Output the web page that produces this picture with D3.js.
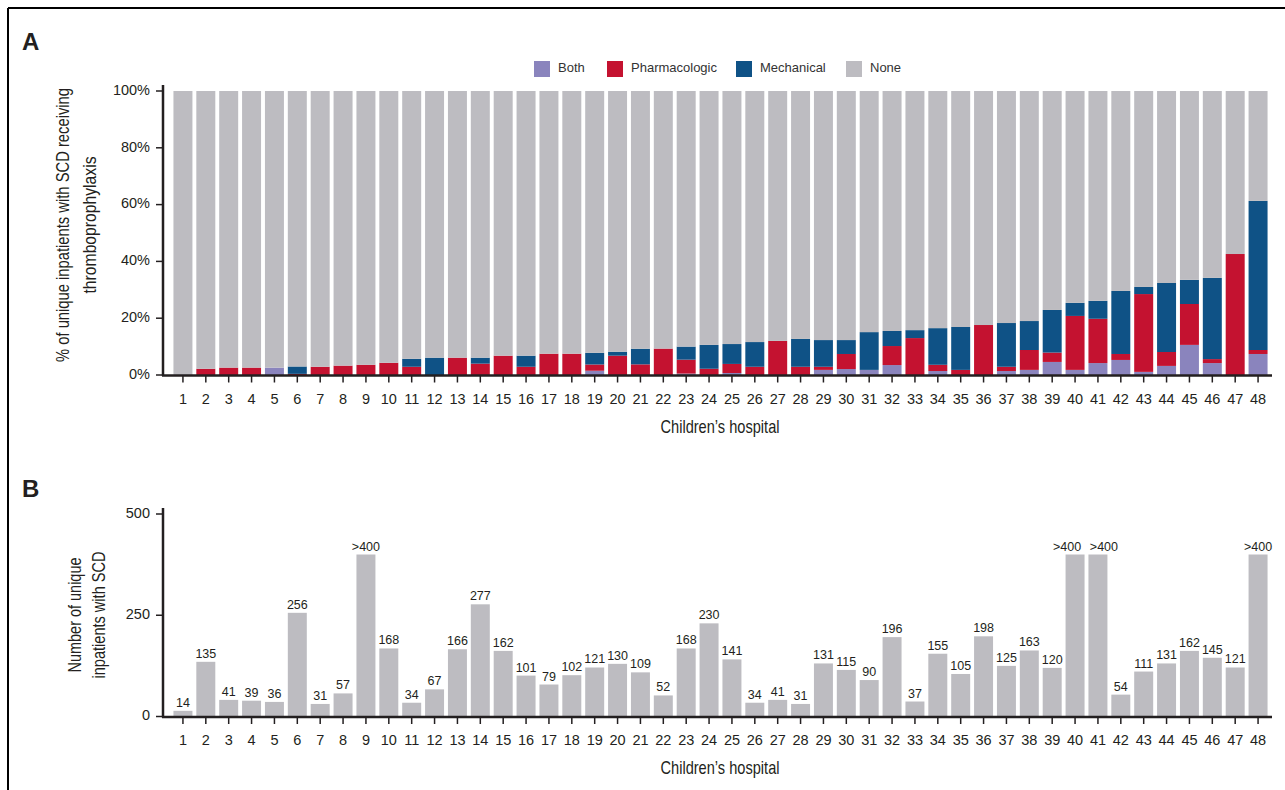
<!DOCTYPE html>
<html>
<head>
<meta charset="utf-8">
<script src="https://cdn.jsdelivr.net/npm/d3@7"></script>
<style>
  html, body { margin: 0; padding: 0; background: #fff; }
  svg { display: block; }
  .tick-label { font-family: "Liberation Sans", Arial, sans-serif; font-size: 14.5px; fill: #231f20; }
  .axis-title { font-family: "Liberation Sans", Arial, sans-serif; font-size: 19px; fill: #231f20; }
  .bar-label { font-family: "Liberation Sans", Arial, sans-serif; font-size: 12.5px; fill: #231f20; }
  .legend-label { font-family: "Liberation Sans", Arial, sans-serif; font-size: 13px; fill: #333; }
  .panel-letter { font-family: "Liberation Sans", Arial, sans-serif; font-size: 24px; font-weight: bold; fill: #231f20; }
</style>
</head>
<body>
<svg id="chart" width="1285" height="790"></svg>
<script>
// Children's hospitals 1–48
const hospitals = d3.range(1, 49);

// Panel A: % of unique inpatients with SCD by thromboprophylaxis type
const both = [0, 0, 0, 0, 2.6, 0, 0, 0, 0, 0,
  0, 0, 0, 0, 0, 0, 0, 0, 1.5, 0,
  0, 0, 0.5, 0, 0.7, 0, 0, 0, 1.8, 2.1,
  1.8, 3.5, 0, 1.4, 0, 0, 1.4, 1.8, 4.6, 1.8,
  4.2, 5.3, 1.1, 3.2, 10.6, 4.2, 0, 7.4];
const pharmacologic = [0, 2.2, 2.6, 2.6, 0, 0.4, 2.9, 3.3, 3.6, 4.3,
  2.9, 0, 6.1, 4.0, 6.8, 2.9, 7.5, 7.5, 2.2, 6.8,
  3.75, 9.3, 4.9, 2.2, 3.2, 2.9, 12.0, 2.9, 1.1, 5.3,
  0, 6.7, 13.0, 2.2, 1.8, 17.6, 1.5, 7.0, 3.3, 19.0,
  15.6, 2.1, 27.4, 4.9, 14.4, 1.4, 42.6, 1.4];
const mechanical = [0, 0, 0, 0, 0, 2.6, 0, 0, 0, 0,
  2.8, 6.1, 0, 2.1, 0, 3.9, 0, 0, 4.1, 1.4,
  5.5, 0, 4.6, 8.4, 7.0, 8.7, 0, 9.8, 9.4, 4.9,
  13.3, 5.3, 2.8, 12.9, 15.1, 0, 15.4, 10.2, 15.0, 4.6,
  6.3, 22.2, 2.5, 24.3, 8.5, 28.6, 0, 52.5];
// Remainder of each hospital's patients received none
const none = hospitals.map((h, i) => 100 - both[i] - pharmacologic[i] - mechanical[i]);

// Panel B: number of unique inpatients with SCD (values above the cap shown as ">400")
const countCap = 400;
const patients = [14, 135, 41, 39, 36, 256, 31, 57, 400, 168,
  34, 67, 166, 277, 162, 101, 79, 102, 121, 130,
  109, 52, 168, 230, 141, 34, 41, 31, 131, 115,
  90, 196, 37, 155, 105, 198, 125, 163, 120, 400,
  400, 54, 111, 131, 162, 145, 121, 400];

const seriesNames = ["Both", "Pharmacologic", "Mechanical", "None"];
const seriesColors = ["#8a84bd", "#c41230", "#0f5286", "#bdbcc1"];
const pctTicks = [0, 20, 40, 60, 80, 100];
const countTicks = [0, 250, 500];

const svg = d3.select("#chart");
const ink = "#231f20";

// Outer frame (top and left rules)
svg.append("line").attr("x1", 8).attr("x2", 1285).attr("y1", 8).attr("y2", 8)
  .attr("stroke", "#000").attr("stroke-width", 2);
svg.append("line").attr("x1", 8).attr("x2", 8).attr("y1", 8).attr("y2", 790)
  .attr("stroke", "#000").attr("stroke-width", 2);

const x = d3.scaleBand().domain(hospitals).range([171.5, 1269.5])
  .paddingInner(0.17).paddingOuter(0.085);

// Condensed-looking titles: squeeze glyphs to a fixed run length
function condensed(sel, len) {
  return sel.attr("textLength", len).attr("lengthAdjust", "spacingAndGlyphs");
}

function drawXAxis(g, y0, labelY, titleY) {
  g.append("line").attr("x1", 162).attr("x2", 1272).attr("y1", y0).attr("y2", y0)
    .attr("stroke", ink).attr("stroke-width", 2.5);
  const t = g.selectAll(".xt").data(hospitals).enter().append("g")
    .attr("transform", d => `translate(${x(d) + x.bandwidth() / 2},0)`);
  t.append("line").attr("y1", y0).attr("y2", y0 + 7).attr("stroke", ink).attr("stroke-width", 1.5);
  t.append("text").attr("class", "tick-label").attr("y", labelY).attr("text-anchor", "middle")
    .attr("dominant-baseline", "middle").text(d => d);
  condensed(g.append("text").attr("class", "axis-title").attr("x", 720).attr("y", titleY)
    .attr("text-anchor", "middle").attr("dominant-baseline", "middle").text("Children’s hospital"), 119);
}

function drawYAxis(g, y, ticks, fmt, top, bottom) {
  g.append("line").attr("x1", 163).attr("x2", 163).attr("y1", top).attr("y2", bottom)
    .attr("stroke", ink).attr("stroke-width", 2.5);
  const t = g.selectAll(".yt").data(ticks).enter().append("g")
    .attr("transform", d => `translate(0,${y(d)})`);
  t.append("line").attr("x1", 156).attr("x2", 163).attr("stroke", ink).attr("stroke-width", 1.5);
  t.append("text").attr("class", "tick-label").attr("x", 150).attr("text-anchor", "end")
    .attr("dominant-baseline", "middle").text(fmt);
}

function drawYTitle(g, cx, cy, lines, lens, gap) {
  const txt = g.append("text").attr("class", "axis-title")
    .attr("transform", `translate(${cx},${cy}) rotate(-90)`).attr("text-anchor", "middle");
  lines.forEach((s, i) => {
    condensed(txt.append("tspan").attr("x", 0).attr("y", i * gap).text(s), lens[i]);
  });
}

// ---------- Panel A: stacked percentages ----------
const gA = svg.append("g");
const yA = d3.scaleLinear().domain([0, 100]).range([375, 91]);
const rows = hospitals.map((h, i) => ({
  hospital: h, Both: both[i], Pharmacologic: pharmacologic[i],
  Mechanical: mechanical[i], None: none[i]
}));
const stack = d3.stack().keys(seriesNames)(rows);
gA.selectAll(".layer").data(stack).enter().append("g")
  .attr("fill", (d, i) => seriesColors[i])
  .selectAll("rect").data(d => d).enter().append("rect")
  .attr("x", d => x(d.data.hospital))
  .attr("width", x.bandwidth())
  .attr("y", d => yA(d[1]))
  .attr("height", d => Math.max(0, yA(d[0]) - yA(d[1])));

drawYAxis(gA, yA, pctTicks, d => d + "%", 85, 376);
drawXAxis(gA, 375.5, 400, 428);
drawYTitle(gA, 69, 225, ["% of unique inpatients with SCD receiving", "thromboprophylaxis"], [274, 137], 27);

gA.append("text").attr("class", "panel-letter").attr("x", 22).attr("y", 50).text("A");

// Legend
const legendX = [534, 607, 736, 846];
const lg = gA.selectAll(".legend").data(seriesNames).enter().append("g")
  .attr("transform", (d, i) => `translate(${legendX[i]},61)`);
lg.append("rect").attr("width", 16).attr("height", 16).attr("fill", (d, i) => seriesColors[i]);
lg.append("text").attr("class", "legend-label").attr("x", 24).attr("y", 8)
  .attr("dominant-baseline", "middle").text(d => d);

// ---------- Panel B: patient counts ----------
const gB = svg.append("g");
const yB = d3.scaleLinear().domain([0, 500]).range([716.5, 514]);
// Side-by-side capped labels are nudged apart so they don't collide
const labelNudge = { 40: -8, 41: 6 };
gB.selectAll(".cnt").data(patients).enter().append("rect")
  .attr("x", (d, i) => x(hospitals[i]))
  .attr("width", x.bandwidth())
  .attr("y", d => yB(d))
  .attr("height", d => yB(0) - yB(d))
  .attr("fill", seriesColors[3]);
gB.selectAll(".cntLabel").data(patients).enter().append("text")
  .attr("class", "bar-label")
  .attr("x", (d, i) => x(hospitals[i]) + x.bandwidth() / 2 + (labelNudge[hospitals[i]] || 0))
  .attr("y", d => yB(d) - 4)
  .attr("text-anchor", "middle")
  .text(d => d >= countCap ? ">" + countCap : d);

drawYAxis(gB, yB, countTicks, d => d, 508, 717.5);
drawXAxis(gB, 717, 741, 769);
drawYTitle(gB, 81, 615, ["Number of unique", "inpatients with SCD"], [115, 127], 24);

gB.append("text").attr("class", "panel-letter").attr("x", 22).attr("y", 497).text("B");
</script>
</body>
</html>
